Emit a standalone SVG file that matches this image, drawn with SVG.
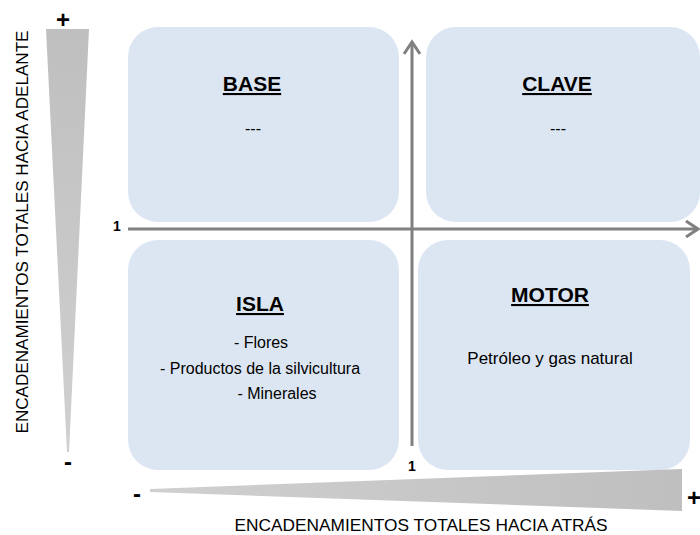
<svg xmlns="http://www.w3.org/2000/svg" width="700" height="535" viewBox="0 0 700 535">
<defs>
<style>
.box{fill:#dce6f2;}
.t{font-family:"Liberation Sans",Arial,sans-serif;fill:#000;}
.title{font-weight:bold;text-decoration:underline;text-anchor:middle;font-size:21px;}
.item{font-size:16px;text-anchor:middle;}
.axis{stroke:#808080;stroke-width:3;fill:none;}
.lbl{font-size:17px;text-anchor:middle;}
.sign{font-size:24px;font-weight:bold;text-anchor:middle;}
.one{font-size:14px;font-weight:bold;text-anchor:middle;}
</style>
<marker id="arr" viewBox="0 0 18 18" refX="15" refY="9" markerWidth="18" markerHeight="18" orient="auto" markerUnits="userSpaceOnUse">
<path d="M3,1 L15,9 L3,17" fill="none" stroke="#808080" stroke-width="3"/>
</marker>
<linearGradient id="gv" x1="0" y1="0" x2="0" y2="1">
<stop offset="0" stop-color="#bfbfbf"/><stop offset="1" stop-color="#d0d0d0"/>
</linearGradient>
<linearGradient id="gh" x1="0" y1="0" x2="1" y2="0">
<stop offset="0" stop-color="#d0d0d0"/><stop offset="1" stop-color="#bfbfbf"/>
</linearGradient>
</defs>
<g id="base"><rect class="box" x="128" y="27" width="271" height="195" rx="30"/>
<text class="t title" x="252" y="91">BASE</text>
<text class="t item" x="253" y="134">---</text></g>
<g id="clave"><rect class="box" x="426" y="27" width="274" height="195" rx="30"/>
<text class="t title" x="557" y="91">CLAVE</text>
<text class="t item" x="558" y="134">---</text></g>
<g id="isla"><rect class="box" x="128" y="240" width="271" height="230" rx="30"/>
<text class="t title" x="260" y="311">ISLA</text>
<text class="t item" x="261" y="348">-  Flores</text>
<text class="t item" x="260" y="374">- Productos de la silvicultura</text>
<text class="t item" x="277" y="399">- Minerales</text></g>
<g id="motor"><rect class="box" x="418" y="240" width="272" height="230" rx="30"/>
<text class="t title" x="550" y="302" font-size="20">MOTOR</text>
<text class="t" x="550" y="364" font-size="17" text-anchor="middle">Petróleo y gas natural</text></g>
<g id="connectors">
<line class="axis" x1="412" y1="446" x2="412" y2="42" marker-end="url(#arr)"/>
<line class="axis" x1="128" y1="229" x2="698" y2="229" marker-end="url(#arr)"/>
</g>
<g id="scales">
<polygon points="46,29 89,29 69,452 67,452" fill="url(#gv)"/>
<polygon points="150,489 682,469 682,511 150,492" fill="url(#gh)"/>
</g>
<g id="labels" class="t">
<text class="sign" x="63" y="28">+</text>
<text class="sign" x="68" y="470">-</text>
<text class="sign" x="137" y="502">-</text>
<text class="sign" x="694" y="506">+</text>
<text class="one" x="117" y="231">1</text>
<text class="one" x="412" y="471">1</text>
<text class="lbl" transform="translate(28,232) rotate(-90)" textLength="403" lengthAdjust="spacingAndGlyphs">ENCADENAMIENTOS TOTALES HACIA ADELANTE</text>
<text class="lbl" x="421" y="531" textLength="373" lengthAdjust="spacingAndGlyphs">ENCADENAMIENTOS TOTALES HACIA ATRÁS</text>
</g>
</svg>
